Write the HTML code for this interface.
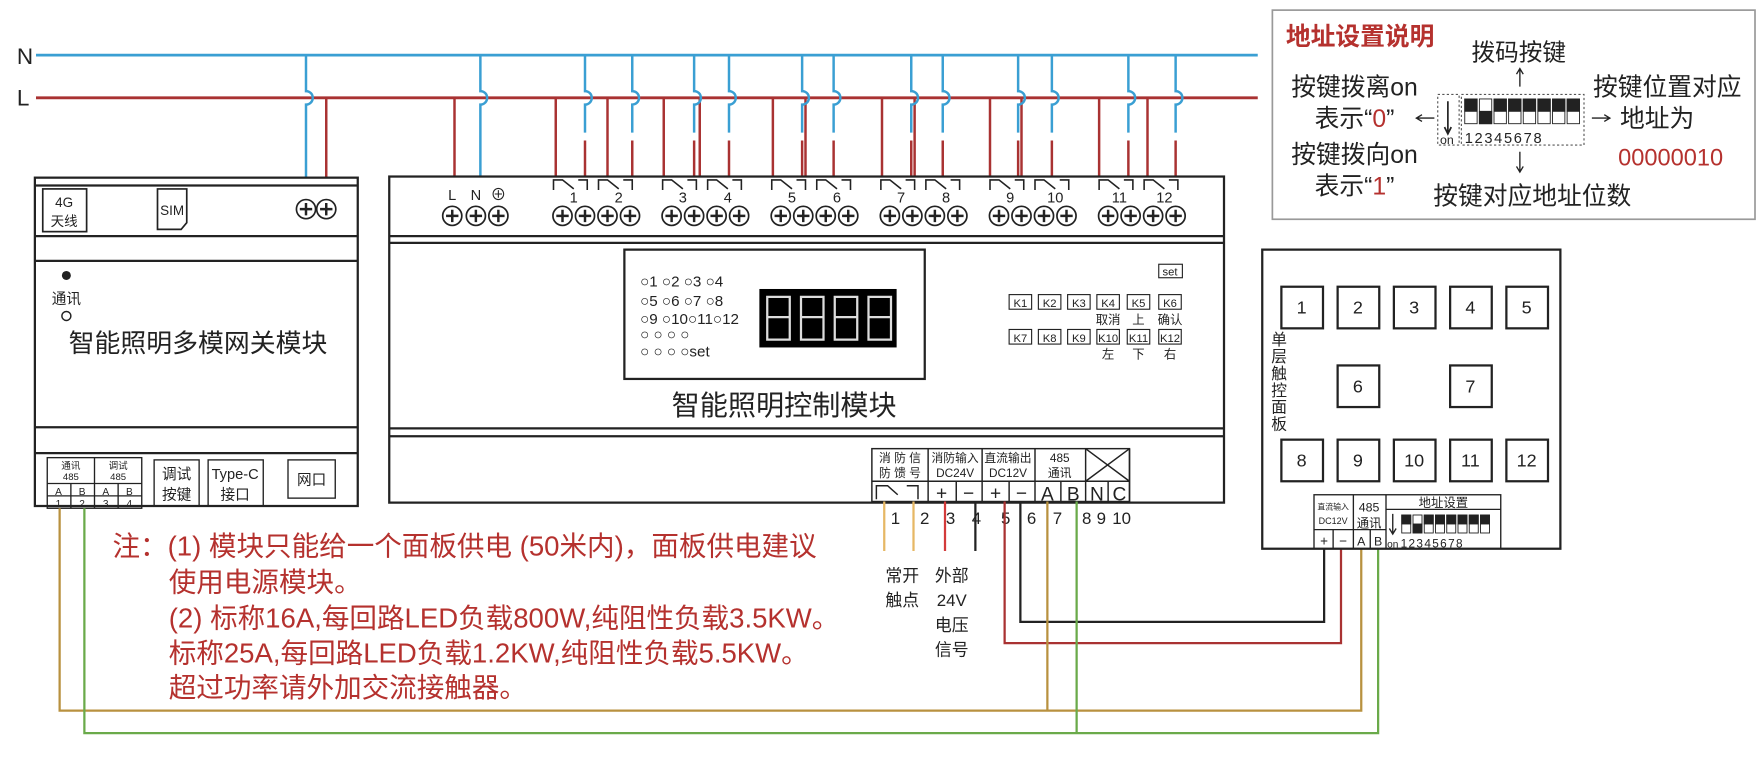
<!DOCTYPE html>
<html><head><meta charset="utf-8"><style>
body{margin:0;background:#fff}
svg{display:block}
text{font-family:"Liberation Sans","Noto Sans CJK SC",sans-serif;fill:#222}
.r{fill:#b5312e}
</style></head><body>
<svg width="1764" height="759" viewBox="0 0 1568 675" preserveAspectRatio="none" xmlns="http://www.w3.org/2000/svg">
<defs>
<g id="term"><circle cx="0" cy="0" r="8.5" fill="#fff" stroke="#222" stroke-width="1.5"/><path d="M-5.5 0H5.5M0 -5.5V5.5" stroke="#222" stroke-width="2.2"/></g>
<g id="relay"><path d="M0 9V0H8L18 8M22 0H30V9" fill="none" stroke="#222" stroke-width="1.4"/></g>
</defs>

<text x="15" y="57" font-size="20">N</text>
<text x="15" y="94" font-size="20">L</text>
<line x1="32" y1="49" x2="1118" y2="49" stroke="#3a9fd3" stroke-width="2.5"/>
<line x1="32" y1="87" x2="1118" y2="87" stroke="#a93232" stroke-width="2.5"/>

<g fill="none" stroke-width="2.2">
<path d="M272 49V81a6 6 0 0 1 0 12V158" stroke="#3a9fd3"/>
<path d="M290 87V158" stroke="#a93232"/>
<path d="M404 87V157" stroke="#a93232"/>
<path d="M427 49V81a6 6 0 0 1 0 12V157" stroke="#3a9fd3"/>
</g>
<g fill="none" stroke-width="2.2">
<path stroke="#a93232" d="M494 87V157M540 87V157M590 87V157M622 87V157M687 87V157M716 87V157M784 87V157M813 87V157M880 87V157M908 87V157M977 87V157M1020 87V157"/>
<path stroke="#3a9fd3" d="M520 49V81a6 6 0 0 1 0 12V118M562 49V81a6 6 0 0 1 0 12V118M617 49V81a6 6 0 0 1 0 12V118M648 49V81a6 6 0 0 1 0 12V118M713 49V81a6 6 0 0 1 0 12V118M741 49V81a6 6 0 0 1 0 12V118M810 49V81a6 6 0 0 1 0 12V118M838 49V81a6 6 0 0 1 0 12V118M905 49V81a6 6 0 0 1 0 12V118M935 49V81a6 6 0 0 1 0 12V118M1003 49V81a6 6 0 0 1 0 12V118M1045 49V81a6 6 0 0 1 0 12V118"/>
<path stroke="#a93232" d="M520 125V157M562 125V157M617 125V157M648 125V157M713 125V157M741 125V157M810 125V157M838 125V157M905 125V157M935 125V157M1003 125V157M1045 125V157"/>
</g>

<g fill="none" stroke="#222" stroke-width="2">
<rect x="31" y="158" width="287" height="292"/>
<line x1="31" y1="165" x2="318" y2="165"/>
<line x1="31" y1="210" x2="318" y2="210"/>
<line x1="31" y1="232" x2="318" y2="232"/>
<line x1="31" y1="380" x2="318" y2="380"/>
<line x1="31" y1="403" x2="318" y2="403"/>
</g>
<rect x="38" y="168" width="39" height="38" fill="none" stroke="#222" stroke-width="1.5"/>
<text x="57" y="184" font-size="12" text-anchor="middle">4G</text>
<text x="57" y="201" font-size="12" text-anchor="middle">天线</text>
<path d="M140 168H166V198L161 204H140Z" fill="none" stroke="#222" stroke-width="1.5"/>
<text x="153" y="191" font-size="12" text-anchor="middle">SIM</text>
<use href="#term" x="272" y="186"/><use href="#term" x="290" y="186"/>
<circle cx="59" cy="245" r="4" fill="#222"/>
<text x="59" y="270" font-size="13" text-anchor="middle">通讯</text>
<circle cx="59" cy="281" r="4" fill="none" stroke="#222" stroke-width="1.3"/>
<text x="176" y="313" font-size="23" text-anchor="middle">智能照明多模网关模块</text>
<g fill="none" stroke="#222" stroke-width="1.2">
<rect x="42" y="407" width="84" height="45"/>
<line x1="84" y1="407" x2="84" y2="452"/>
<line x1="42" y1="430" x2="126" y2="430"/>
<line x1="42" y1="441" x2="126" y2="441"/>
<line x1="63" y1="430" x2="63" y2="452"/><line x1="105" y1="430" x2="105" y2="452"/>
<rect x="137" y="409" width="40" height="41"/>
<rect x="185" y="409" width="49" height="41"/>
<rect x="256" y="409" width="42" height="34"/>
</g>
<text x="63" y="417" font-size="8.5" text-anchor="middle">通讯</text>
<text x="63" y="427" font-size="8.5" text-anchor="middle">485</text>
<text x="105" y="417" font-size="8.5" text-anchor="middle">调试</text>
<text x="105" y="427" font-size="8.5" text-anchor="middle">485</text>
<text x="52" y="440" font-size="9" text-anchor="middle">A</text><text x="73" y="440" font-size="9" text-anchor="middle">B</text>
<text x="94" y="440" font-size="9" text-anchor="middle">A</text><text x="115" y="440" font-size="9" text-anchor="middle">B</text>
<text x="52" y="451" font-size="9" text-anchor="middle">1</text><text x="73" y="451" font-size="9" text-anchor="middle">2</text>
<text x="94" y="451" font-size="9" text-anchor="middle">3</text><text x="115" y="451" font-size="9" text-anchor="middle">4</text>
<text x="157" y="426" font-size="13" text-anchor="middle">调试</text>
<text x="157" y="444" font-size="13" text-anchor="middle">按键</text>
<text x="209" y="426" font-size="13" text-anchor="middle">Type-C</text>
<text x="209" y="444" font-size="13" text-anchor="middle">接口</text>
<text x="277" y="431" font-size="13" text-anchor="middle">网口</text>

<g fill="none" stroke="#222" stroke-width="2">
<rect x="346" y="157" width="742" height="290"/>
<line x1="346" y1="210" x2="1088" y2="210"/>
<line x1="346" y1="216" x2="1088" y2="216"/>
<line x1="346" y1="381" x2="1088" y2="381"/>
<line x1="346" y1="388" x2="1088" y2="388"/>
</g>
<text x="402" y="178" font-size="13" text-anchor="middle">L</text>
<text x="423" y="178" font-size="13" text-anchor="middle">N</text>
<text x="443" y="178" font-size="14" text-anchor="middle">⊕</text>
<use href="#term" x="402" y="192"/><use href="#term" x="423" y="192"/><use href="#term" x="443" y="192"/>
<g id="grp">
<use href="#relay" x="492" y="160"/><use href="#relay" x="532" y="160"/>
<use href="#term" x="500" y="192"/><use href="#term" x="520" y="192"/><use href="#term" x="540" y="192"/><use href="#term" x="560" y="192"/>
</g>
<use href="#grp" x="97"/><use href="#grp" x="194"/><use href="#grp" x="291"/><use href="#grp" x="388"/><use href="#grp" x="485"/>
<g font-size="13" text-anchor="middle">
<text x="510" y="180">1</text><text x="550" y="180">2</text>
<text x="607" y="180">3</text><text x="647" y="180">4</text>
<text x="704" y="180">5</text><text x="744" y="180">6</text>
<text x="801" y="180">7</text><text x="841" y="180">8</text>
<text x="898" y="180">9</text><text x="938" y="180">10</text>
<text x="995" y="180">11</text><text x="1035" y="180">12</text>
</g>
<rect x="555" y="222" width="267" height="115" fill="none" stroke="#222" stroke-width="2"/>
<g font-size="13.5">
<text x="569" y="255">○1 ○2 ○3 ○4</text>
<text x="569" y="272">○5 ○6 ○7 ○8</text>
<text x="569" y="288">○9 ○10○11○12</text>
<text x="569" y="302">○   ○   ○   ○</text>
<text x="569" y="317">○   ○   ○   ○set</text>
</g>
<rect x="675" y="257" width="122" height="52" fill="#000"/>
<g fill="none" stroke="#ddd" stroke-width="2">
<path d="M682 264h20v18h-20zM682 282v20h20v-20"/>
<path d="M712 264h20v18h-20zM712 282v20h20v-20"/>
<path d="M742 264h20v18h-20zM742 282v20h20v-20"/>
<path d="M772 264h20v18h-20zM772 282v20h20v-20"/>
</g>
<text x="697" y="369" font-size="25" text-anchor="middle">智能照明控制模块</text>
<rect x="1030" y="235" width="21" height="12" fill="none" stroke="#222" stroke-width="1"/>
<text x="1040" y="245" font-size="10" text-anchor="middle">set</text>
<g fill="none" stroke="#222" stroke-width="1">
<rect x="897" y="262" width="20" height="13"/><rect x="923" y="262" width="20" height="13"/><rect x="949" y="262" width="20" height="13"/><rect x="975" y="262" width="20" height="13"/><rect x="1002" y="262" width="20" height="13"/><rect x="1030" y="262" width="20" height="13"/>
<rect x="897" y="293" width="20" height="13"/><rect x="923" y="293" width="20" height="13"/><rect x="949" y="293" width="20" height="13"/><rect x="975" y="293" width="20" height="13"/><rect x="1002" y="293" width="20" height="13"/><rect x="1030" y="293" width="20" height="13"/>
</g>
<g font-size="10" text-anchor="middle">
<text x="907" y="273">K1</text><text x="933" y="273">K2</text><text x="959" y="273">K3</text><text x="985" y="273">K4</text><text x="1012" y="273">K5</text><text x="1040" y="273">K6</text>
<text x="907" y="304">K7</text><text x="933" y="304">K8</text><text x="959" y="304">K9</text><text x="985" y="304">K10</text><text x="1012" y="304">K11</text><text x="1040" y="304">K12</text>
</g>
<g font-size="11" text-anchor="middle">
<text x="985" y="288">取消</text><text x="1012" y="288">上</text><text x="1040" y="288">确认</text>
<text x="985" y="319">左</text><text x="1012" y="319">下</text><text x="1040" y="319">右</text>
</g>
<g fill="none" stroke="#222" stroke-width="1.3">
<rect x="775" y="399" width="229" height="47"/>
<line x1="775" y1="428" x2="1004" y2="428"/>
<line x1="825" y1="399" x2="825" y2="446"/><line x1="873" y1="399" x2="873" y2="446"/>
<line x1="920" y1="399" x2="920" y2="446"/><line x1="965" y1="399" x2="965" y2="446"/>
<line x1="1004" y1="399" x2="1004" y2="446"/>
<line x1="850" y1="428" x2="850" y2="446"/><line x1="897" y1="428" x2="897" y2="446"/>
<line x1="943" y1="428" x2="943" y2="446"/><line x1="985" y1="428" x2="985" y2="446"/>
<path d="M965 399L1004 428M1004 399L965 428"/>
<path d="M779 444V432H789L798 440M806 432H816V444"/>
</g>
<g font-size="10.5" text-anchor="middle">
<text x="800" y="411">消 防 信</text><text x="800" y="424">防 馈 号</text>
<text x="849" y="411">消防输入</text><text x="849" y="424">DC24V</text>
<text x="896" y="411">直流输出</text><text x="896" y="424">DC12V</text>
<text x="942" y="411">485</text><text x="942" y="424">通讯</text>
</g>
<g font-size="17" text-anchor="middle">
<text x="837" y="444">+</text><text x="861" y="444">−</text><text x="885" y="444">+</text><text x="908" y="444">−</text>
<text x="931" y="445">A</text><text x="954" y="445">B</text><text x="975" y="445">N</text><text x="995" y="445">C</text>
</g>
<g font-size="15" text-anchor="middle">
<text x="796" y="466">1</text><text x="822" y="466">2</text><text x="845" y="466">3</text><text x="868" y="466">4</text>
<text x="894" y="466">5</text><text x="917" y="466">6</text><text x="940" y="466">7</text>
<text x="966" y="466">8</text><text x="979" y="466">9</text><text x="997" y="466">10</text>
</g>
<g font-size="15" text-anchor="middle">
<text x="802" y="517">常开</text><text x="802" y="539">触点</text>
<text x="846" y="517">外部</text><text x="846" y="539">24V</text><text x="846" y="561">电压</text><text x="846" y="583">信号</text>
</g>

<g fill="none" stroke-width="2">
<path d="M786 446V490M812 446V490" stroke="#e6b865"/>
<path d="M840 446V490" stroke="#d33a3a"/>
<path d="M867 446V490" stroke="#222"/>
<path d="M907 446V553H1177V488" stroke="#222"/>
<path d="M893 446V572H1192V488" stroke="#a93232"/>
<path d="M931 446V632H53V452M1210 488V632H931" stroke="#b8913f"/>
<path d="M957 446V652H75V452M1225 488V652H957" stroke="#6aaa4a"/>
</g>

<rect x="1122" y="222" width="265" height="266" fill="none" stroke="#222" stroke-width="2"/>
<g fill="none" stroke="#222" stroke-width="2">
<rect x="1139" y="255" width="37" height="37"/><rect x="1189" y="255" width="37" height="37"/><rect x="1239" y="255" width="37" height="37"/><rect x="1289" y="255" width="37" height="37"/><rect x="1339" y="255" width="37" height="37"/>
<rect x="1189" y="325" width="37" height="37"/><rect x="1289" y="325" width="37" height="37"/>
<rect x="1139" y="391" width="37" height="37"/><rect x="1189" y="391" width="37" height="37"/><rect x="1239" y="391" width="37" height="37"/><rect x="1289" y="391" width="37" height="37"/><rect x="1339" y="391" width="37" height="37"/>
</g>
<g font-size="16" text-anchor="middle">
<text x="1157" y="279">1</text><text x="1207" y="279">2</text><text x="1257" y="279">3</text><text x="1307" y="279">4</text><text x="1357" y="279">5</text>
<text x="1207" y="349">6</text><text x="1307" y="349">7</text>
<text x="1157" y="415">8</text><text x="1207" y="415">9</text><text x="1257" y="415">10</text><text x="1307" y="415">11</text><text x="1357" y="415">12</text>
</g>
<g font-size="14" text-anchor="middle">
<text x="1137" y="307">单</text><text x="1137" y="322">层</text><text x="1137" y="337">触</text><text x="1137" y="352">控</text><text x="1137" y="367">面</text><text x="1137" y="382">板</text>
</g>
<g fill="none" stroke="#222" stroke-width="1.2">
<rect x="1168" y="440" width="166" height="48"/>
<line x1="1203" y1="440" x2="1203" y2="488"/><line x1="1232" y1="440" x2="1232" y2="488"/>
<line x1="1168" y1="471" x2="1232" y2="471"/><line x1="1185" y1="471" x2="1185" y2="488"/><line x1="1218" y1="471" x2="1218" y2="488"/>
<line x1="1232" y1="453" x2="1334" y2="453"/>
</g>
<text x="1185" y="453" font-size="7" text-anchor="middle">直流输入</text>
<text x="1185" y="466" font-size="8" text-anchor="middle">DC12V</text>
<text x="1217" y="455" font-size="11" text-anchor="middle">485</text>
<text x="1217" y="469" font-size="11" text-anchor="middle">通讯</text>
<text x="1283" y="451" font-size="11" text-anchor="middle">地址设置</text>
<text x="1177" y="485" font-size="12" text-anchor="middle">+</text><text x="1194" y="485" font-size="12" text-anchor="middle">−</text>
<text x="1210" y="485" font-size="11" text-anchor="middle">A</text><text x="1225" y="485" font-size="11" text-anchor="middle">B</text>
<path d="M1238 457V474M1235 470L1238 475L1241 470" fill="none" stroke="#222" stroke-width="1.2"/>
<text x="1233" y="487" font-size="9">on</text>
<g stroke="#222" stroke-width="0.8">
<rect x="1246" y="458" width="8" height="16" fill="#fff"/><rect x="1246" y="458" width="8" height="8" fill="#222"/>
<rect x="1256" y="458" width="8" height="16" fill="#fff"/><rect x="1256" y="466" width="8" height="8" fill="#222"/>
<rect x="1266" y="458" width="8" height="16" fill="#fff"/><rect x="1266" y="458" width="8" height="8" fill="#222"/>
<rect x="1276" y="458" width="8" height="16" fill="#fff"/><rect x="1276" y="458" width="8" height="8" fill="#222"/>
<rect x="1286" y="458" width="8" height="16" fill="#fff"/><rect x="1286" y="458" width="8" height="8" fill="#222"/>
<rect x="1296" y="458" width="8" height="16" fill="#fff"/><rect x="1296" y="458" width="8" height="8" fill="#222"/>
<rect x="1306" y="458" width="8" height="16" fill="#fff"/><rect x="1306" y="458" width="8" height="8" fill="#222"/>
<rect x="1316" y="458" width="8" height="16" fill="#fff"/><rect x="1316" y="458" width="8" height="8" fill="#222"/>
</g>
<text x="1245" y="487" font-size="10.5" letter-spacing="1.2">12345678</text>

<rect x="1131" y="9" width="429" height="186" fill="none" stroke="#999" stroke-width="1.5"/>
<text x="1143" y="40" font-size="22" class="r" font-weight="bold">地址设置说明</text>
<text x="1350" y="54" font-size="21" text-anchor="middle">拨码按键</text>
<path d="M1351 77V62M1348 66L1351 61L1354 66" fill="none" stroke="#222" stroke-width="1.2"/>
<text x="1204" y="85" font-size="22" text-anchor="middle">按键拨离on</text>
<text x="1204" y="113" font-size="22" text-anchor="middle">表示“<tspan class="r">0</tspan>”</text>
<text x="1204" y="145" font-size="22" text-anchor="middle">按键拨向on</text>
<text x="1204" y="173" font-size="22" text-anchor="middle">表示“<tspan class="r">1</tspan>”</text>
<path d="M1275 105H1260M1264 102L1259 105L1264 108" fill="none" stroke="#222" stroke-width="1.2"/>
<rect x="1278" y="84" width="19" height="45" fill="none" stroke="#555" stroke-dasharray="2 2"/>
<rect x="1299" y="84" width="109" height="45" fill="none" stroke="#555" stroke-dasharray="2 2"/>
<path d="M1287 90V118M1284 113L1287 119L1290 113" fill="none" stroke="#222" stroke-width="1.5"/>
<text x="1280" y="128" font-size="11">on</text>
<g stroke="#222" stroke-width="0.8">
<rect x="1302" y="88" width="11" height="22" fill="#fff"/><rect x="1302" y="88" width="11" height="11" fill="#222"/>
<rect x="1315" y="88" width="11" height="22" fill="#fff"/><rect x="1315" y="99" width="11" height="11" fill="#222"/>
<rect x="1328" y="88" width="11" height="22" fill="#fff"/><rect x="1328" y="88" width="11" height="11" fill="#222"/>
<rect x="1341" y="88" width="11" height="22" fill="#fff"/><rect x="1341" y="88" width="11" height="11" fill="#222"/>
<rect x="1354" y="88" width="11" height="22" fill="#fff"/><rect x="1354" y="88" width="11" height="11" fill="#222"/>
<rect x="1367" y="88" width="11" height="22" fill="#fff"/><rect x="1367" y="88" width="11" height="11" fill="#222"/>
<rect x="1380" y="88" width="11" height="22" fill="#fff"/><rect x="1380" y="88" width="11" height="11" fill="#222"/>
<rect x="1393" y="88" width="11" height="22" fill="#fff"/><rect x="1393" y="88" width="11" height="11" fill="#222"/>
</g>
<text x="1302" y="127" font-size="13" letter-spacing="1.5">12345678</text>
<path d="M1351 135V152M1348 148L1351 153L1354 148" fill="none" stroke="#222" stroke-width="1.2"/>
<text x="1362" y="182" font-size="22" text-anchor="middle">按键对应地址位数</text>
<path d="M1415 105H1430M1426 102L1431 105L1426 108" fill="none" stroke="#222" stroke-width="1.2"/>
<text x="1482" y="85" font-size="22" text-anchor="middle">按键位置对应</text>
<text x="1473" y="113" font-size="22" text-anchor="middle">地址为</text>
<text x="1485" y="147" font-size="21" text-anchor="middle" class="r">00000010</text>

<g font-size="24.5">
<text x="100" y="494" class="r">注：(1) 模块只能给一个面板供电 (50米内)，面板供电建议</text>
<text x="150" y="526" class="r">使用电源模块。</text>
<text x="150" y="558" class="r">(2) 标称16A,每回路LED负载800W,纯阻性负载3.5KW。</text>
<text x="150" y="589" class="r">标称25A,每回路LED负载1.2KW,纯阻性负载5.5KW。</text>
<text x="150" y="620" class="r">超过功率请外加交流接触器。</text>
</g>
</svg>
</body></html>
